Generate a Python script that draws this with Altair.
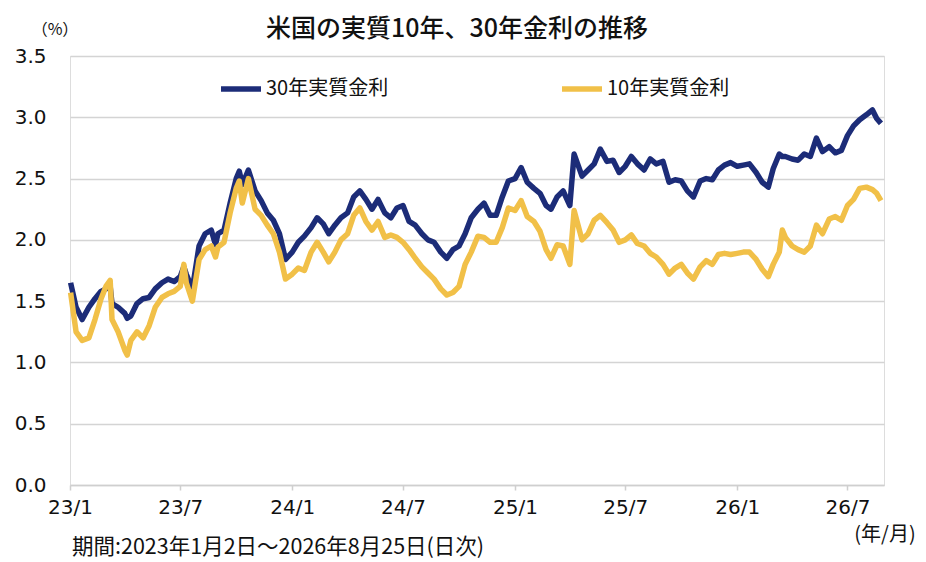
import altair as alt
import pandas as pd

dates = [
    "2023-01-02", "2023-01-11", "2023-01-21", "2023-02-01", "2023-02-11", "2023-02-21",
    "2023-03-01", "2023-03-08", "2023-03-11", "2023-03-21", "2023-04-01", "2023-04-05",
    "2023-04-11", "2023-04-21", "2023-05-01", "2023-05-11", "2023-05-21", "2023-06-01",
    "2023-06-11", "2023-06-21", "2023-07-01", "2023-07-07", "2023-07-11", "2023-07-21",
    "2023-08-01", "2023-08-11", "2023-08-21", "2023-08-28", "2023-09-01", "2023-09-11",
    "2023-09-21", "2023-10-01", "2023-10-06", "2023-10-11", "2023-10-21", "2023-11-01",
    "2023-11-11", "2023-11-21", "2023-12-01", "2023-12-11", "2023-12-21",
    "2024-01-01", "2024-01-11", "2024-01-21", "2024-02-01", "2024-02-11", "2024-02-21",
    "2024-03-01", "2024-03-11", "2024-03-21", "2024-04-01", "2024-04-11", "2024-04-21",
    "2024-05-01", "2024-05-11", "2024-05-21", "2024-06-01", "2024-06-11", "2024-06-21",
    "2024-07-01", "2024-07-11", "2024-07-21", "2024-08-01", "2024-08-11", "2024-08-21",
    "2024-09-01", "2024-09-11", "2024-09-21", "2024-10-01", "2024-10-11", "2024-10-21",
    "2024-11-01", "2024-11-11", "2024-11-21", "2024-12-01", "2024-12-11", "2024-12-21",
    "2025-01-01", "2025-01-11", "2025-01-21", "2025-02-01", "2025-02-11", "2025-02-21",
    "2025-03-01", "2025-03-11", "2025-03-21", "2025-04-01", "2025-04-08", "2025-04-21",
    "2025-05-01", "2025-05-11", "2025-05-21", "2025-06-01", "2025-06-11", "2025-06-21",
    "2025-07-01", "2025-07-11", "2025-07-21", "2025-08-01", "2025-08-11", "2025-08-21",
    "2025-09-01", "2025-09-11", "2025-09-21", "2025-10-01", "2025-10-11", "2025-10-21",
    "2025-11-01", "2025-11-11", "2025-11-21", "2025-12-01", "2025-12-11", "2025-12-21",
    "2026-01-01", "2026-01-11", "2026-01-21", "2026-02-01", "2026-02-11", "2026-02-21",
    "2026-03-01", "2026-03-11", "2026-03-16", "2026-03-21", "2026-04-01", "2026-04-11",
    "2026-04-21", "2026-05-01", "2026-05-11", "2026-05-21", "2026-06-01", "2026-06-11",
    "2026-06-21", "2026-07-01", "2026-07-11", "2026-07-21", "2026-08-01", "2026-08-11",
    "2026-08-18", "2026-08-25",
]

real30 = [
    1.65, 1.45, 1.35, 1.45, 1.52, 1.58,
    1.60, 1.62, 1.48, 1.45, 1.40, 1.36,
    1.38, 1.48, 1.52, 1.53, 1.60, 1.65,
    1.68, 1.66, 1.70, 1.78, 1.72, 1.60,
    1.95, 2.05, 2.08, 1.96, 2.05, 2.08,
    2.30, 2.50, 2.56, 2.45, 2.57, 2.40,
    2.32, 2.22, 2.16, 2.05, 1.84,
    1.90, 1.98, 2.03, 2.10, 2.18, 2.13,
    2.05, 2.12, 2.18, 2.22, 2.35, 2.40,
    2.33, 2.25, 2.33, 2.22, 2.18, 2.26,
    2.28, 2.15, 2.12, 2.05, 2.00, 1.98,
    1.90, 1.85, 1.92, 1.95, 2.05, 2.18,
    2.25, 2.30, 2.20, 2.20, 2.35, 2.48,
    2.50, 2.59, 2.47, 2.42, 2.38, 2.28,
    2.25, 2.35, 2.40, 2.28, 2.70, 2.52,
    2.57, 2.62, 2.74, 2.64, 2.65, 2.55,
    2.60, 2.68, 2.62, 2.57, 2.66, 2.62,
    2.64, 2.47, 2.49, 2.48, 2.40, 2.35,
    2.48, 2.50, 2.49, 2.57, 2.61, 2.63,
    2.60, 2.61, 2.62, 2.55, 2.47, 2.43,
    2.58, 2.70, 2.68, 2.68, 2.66, 2.65,
    2.70, 2.68, 2.83, 2.72, 2.76, 2.71,
    2.73, 2.85, 2.93, 2.98, 3.02, 3.06,
    2.99, 2.95,
]

real10 = [
    1.57, 1.25, 1.18, 1.20, 1.35, 1.52,
    1.62, 1.67, 1.35, 1.25, 1.10, 1.06,
    1.18, 1.25, 1.20, 1.30, 1.45, 1.53,
    1.56, 1.58, 1.62, 1.80, 1.65, 1.50,
    1.84, 1.92, 1.95, 1.86, 1.94, 1.98,
    2.22, 2.42, 2.48, 2.30, 2.50, 2.25,
    2.20, 2.12, 2.05, 1.90, 1.68,
    1.72, 1.77, 1.75, 1.90, 1.98, 1.90,
    1.82, 1.90, 2.00, 2.05, 2.20, 2.26,
    2.15, 2.08, 2.15, 2.02, 2.04, 2.02,
    1.98, 1.92, 1.85, 1.78, 1.73, 1.68,
    1.60, 1.55, 1.57, 1.62, 1.80, 1.90,
    2.03, 2.02, 1.98, 1.98, 2.10, 2.26,
    2.24, 2.32, 2.19, 2.15, 2.07, 1.92,
    1.85, 1.96, 1.95, 1.80, 2.24, 2.00,
    2.05, 2.16, 2.20, 2.14, 2.08, 1.98,
    2.00, 2.04, 1.97, 1.95, 1.89, 1.86,
    1.80, 1.72, 1.77, 1.80, 1.73, 1.68,
    1.78, 1.83, 1.80, 1.88, 1.89, 1.88,
    1.89, 1.90, 1.90, 1.84, 1.76, 1.70,
    1.80, 1.90, 2.08, 2.02, 1.95, 1.92,
    1.90, 1.95, 2.12, 2.05, 2.17, 2.19,
    2.16, 2.28, 2.33, 2.42, 2.43, 2.41,
    2.38, 2.32,
]

series_names = ["30年実質金利", "10年実質金利"]
series_colors = ["#1c2c78", "#f1c048"]
x_ticks = ["2023-01-01", "2023-07-01", "2024-01-01", "2024-07-01",
           "2025-01-01", "2025-07-01", "2026-01-01", "2026-07-01"]
y_ticks = [0.0, 0.5, 1.0, 1.5, 2.0, 2.5, 3.0, 3.5]

title_text = "米国の実質10年、30年金利の推移"
unit_text = "（%）"
xunit_text = "(年/月)"
note_text = "期間:2023年1月2日～2026年8月25日(日次)"

FONT = "Noto Sans CJK JP"
NUMFONT = "DejaVu Sans"

rows = []
for d, a, b in zip(dates, real30, real10):
    rows.append({"date": d + "T00:00:00", "series": series_names[0], "value": a})
    rows.append({"date": d + "T00:00:00", "series": series_names[1], "value": b})
df = pd.DataFrame(rows)

def dt(s):
    y, m, d = map(int, s.split("-"))
    return alt.DateTime(year=y, month=m, date=d)

W, H = 814, 429

lines = alt.Chart(df).mark_line(strokeWidth=5.5, strokeJoin="round").encode(
    x=alt.X("date:T",
            scale=alt.Scale(domain=[dt("2023-01-01"), dt("2026-08-30")]),
            axis=alt.Axis(values=[dt(s) for s in x_ticks], format="%y/%-m", title=None,
                          grid=False, labelFontSize=20, labelColor="#111",
                          labelFont=NUMFONT, labelPadding=7, labelFlush=False,
                          domainColor="#cfcfcf", domainWidth=1.5,
                          tickColor="#cfcfcf", tickSize=5, tickWidth=1.5)),
    y=alt.Y("value:Q",
            scale=alt.Scale(domain=[0, 3.5]),
            axis=alt.Axis(values=y_ticks, format=".1f", title=None,
                          grid=True, gridColor="#d4d4d4", gridWidth=1.5,
                          domain=False, ticks=False, labelFontSize=20,
                          labelColor="#111", labelFont=NUMFONT, labelPadding=24)),
    color=alt.Color("series:N",
                    scale=alt.Scale(domain=series_names, range=series_colors),
                    sort=series_names,
                    legend=alt.Legend(orient="none", legendX=148, legendY=10,
                                      direction="horizontal", title=None,
                                      symbolType="stroke", symbolStrokeWidth=5.5,
                                      symbolSize=1600, labelFontSize=20,
                                      labelFont=FONT, labelColor="#111",
                                      columnPadding=162, labelOffset=2)),
)

one = pd.DataFrame({"k": [0]})

def label(text, x, y, size, align="left", weight="normal", color="#111"):
    return alt.Chart(one).mark_text(text=text, fontSize=size, font=FONT, align=align,
                                    baseline="middle", fontWeight=weight,
                                    color=color).encode(
        x=alt.value(x), y=alt.value(y))

title = label(title_text, 387, -27, 25, align="center", weight=500)
unit = label(unit_text, -15, -26, 16, align="center")
xunit = label(xunit_text, 815, 479, 20, align="center")
note = label(note_text, 2, 492, 21.5)

chart = alt.layer(lines, title, unit, xunit, note).properties(
    width=W, height=H,
    autosize=alt.AutoSizeParams(type="none"),
    padding={"left": 62, "top": 48, "right": 32, "bottom": 80},
).configure_view(stroke=None).configure(background="white")

chart.save("out.html", embed_options={"renderer": "svg", "actions": False})
